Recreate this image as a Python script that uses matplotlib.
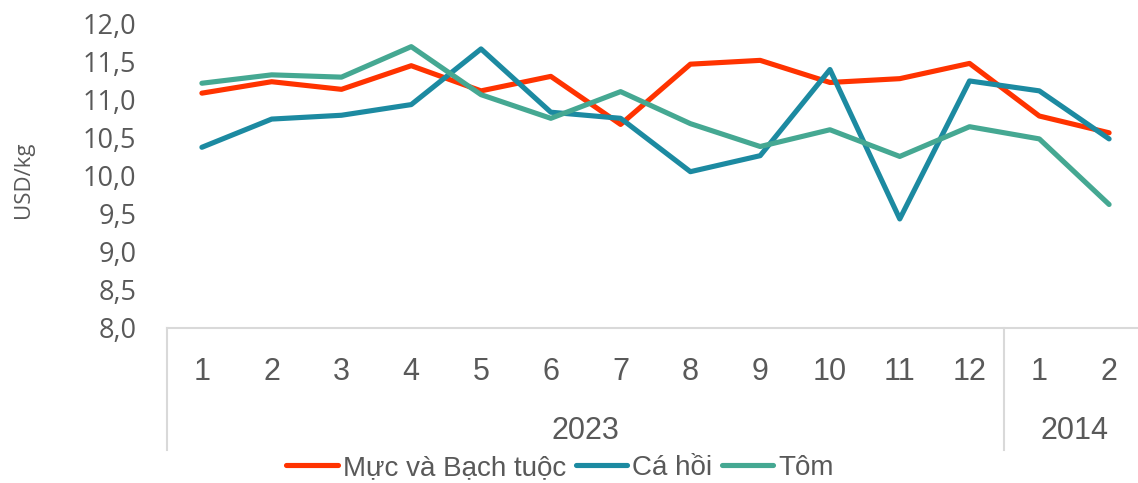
import matplotlib
matplotlib.use("Agg")
import matplotlib.pyplot as plt
from matplotlib.ticker import FuncFormatter
from matplotlib.transforms import blended_transform_factory

# ---- data ----
months = ["1", "2", "3", "4", "5", "6", "7", "8", "9", "10", "11", "12", "1", "2"]
years = ["2023", "2014"]
year_spans = [(0, 11), (12, 13)]
muc = [11.08, 11.23, 11.13, 11.44, 11.11, 11.30, 10.67, 11.46, 11.51, 11.22, 11.27, 11.47, 10.78, 10.56]
ca_hoi = [10.37, 10.74, 10.79, 10.93, 11.66, 10.83, 10.75, 10.05, 10.26, 11.39, 9.43, 11.24, 11.11, 10.48]
tom = [11.21, 11.32, 11.29, 11.69, 11.06, 10.75, 11.10, 10.68, 10.38, 10.60, 10.25, 10.64, 10.48, 9.62]
series_names = ["Mực và Bạch tuộc", "Cá hồi", "Tôm"]
colors = ["#FF3300", "#1C8AA1", "#45A892"]

TXT = "#595959"
GRID = "#D9D9D9"

fig = plt.figure(figsize=(11.38, 4.83), dpi=100)
W, H = 1138, 483
left_px, right_px, top_px, bot_px = 167, 1144, 23, 328
ax = fig.add_axes([left_px / W, 1 - bot_px / H, (right_px - left_px) / W, (bot_px - top_px) / H])

x = list(range(len(months)))
for vals, name, c in zip([muc, ca_hoi, tom], series_names, colors):
    ax.plot(x, vals, color=c, lw=3.7, label=name, solid_joinstyle="round", solid_capstyle="round")

ax.set_xlim(-0.5, len(months) - 0.5)
ax.set_ylim(8, 12)
ax.set_yticks([8 + 0.5 * i for i in range(9)])
ax.yaxis.set_major_formatter(FuncFormatter(lambda v, p: f"{v:.1f}".replace(".", ",")))
ax.tick_params(axis="y", length=0, pad=22, labelcolor=TXT)
for lab in ax.get_yticklabels():
    lab.set_fontfamily("Open Sans")
    lab.set_fontsize(19.5)

ax.set_xticks(x)
ax.set_xticklabels(months, fontfamily="Liberation Sans", fontsize=22, color=TXT)
ax.tick_params(axis="x", length=0, pad=21)

for s in ["top", "right", "left"]:
    ax.spines[s].set_visible(False)
ax.spines["bottom"].set_color(GRID)
ax.spines["bottom"].set_linewidth(1.5)

fig.text(23 / W, 1 - 180 / H, "USD/kg", rotation=90, ha="center", va="center",
         fontfamily="Open Sans", fontsize=16, color=TXT)

trans = blended_transform_factory(ax.transData, ax.transAxes)
axh = bot_px - top_px
for (a, b), yr in zip(year_spans, years):
    ax.text((a + b) / 2, -103 / axh, yr, transform=trans, ha="center", va="center",
            fontfamily="Liberation Sans", fontsize=22, color=TXT)
sep_positions = [-0.5] + [b + 0.5 for (a, b) in year_spans]
for sp in sep_positions:
    ax.plot([sp, sp], [0, -122 / axh], transform=trans, color=GRID, lw=1.5, clip_on=False)

fig.legend(loc="center", bbox_to_anchor=(560 / W, 1 - 468 / H), ncol=3, frameon=False,
           prop={"family": "Liberation Sans", "size": 20}, labelcolor=TXT,
           handlelength=1.85, handletextpad=0.18, columnspacing=0.35, borderpad=0)

fig.savefig("out.png", dpi=100)
